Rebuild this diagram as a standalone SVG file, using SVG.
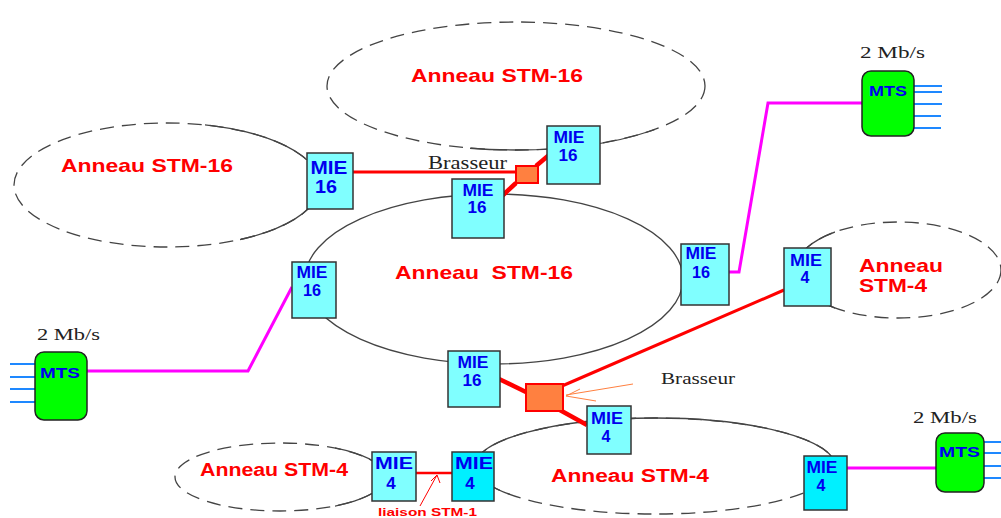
<svg xmlns="http://www.w3.org/2000/svg" width="1001" height="518" viewBox="0 0 1001 518">
<style>
.ring{fill:none;stroke:#444;stroke-width:1.3}
.dash{fill:none;stroke:#444;stroke-width:1.3;stroke-dasharray:14 8}
.lbl{font-family:"Liberation Sans",Arial,sans-serif;font-weight:bold;fill:#ff0000}
.mie{stroke:#333;stroke-width:1.5}
.light{fill:#80ffff}
.dark{fill:#00f0ff}
.mt{font-family:"Liberation Sans",Arial,sans-serif;font-weight:bold;fill:#0000ee;text-anchor:middle}
.mts{fill:#00ff00;stroke:#222;stroke-width:1.5}
.mtst{font-family:"Liberation Sans",Arial,sans-serif;font-weight:bold;fill:#0000ee;font-size:14px}
.serif{font-family:"Liberation Serif","Times New Roman",serif;fill:#222}
.trib{stroke:#1e88ff;stroke-width:2;fill:none}
.mag{stroke:#ff00ff;stroke-width:3;fill:none;stroke-linejoin:miter}
.red{stroke:#ff0000;fill:none}
.brass{fill:#ff8040;stroke:#ff0000;stroke-width:2}
</style>
<defs>
<clipPath id="cL"><rect x="205" y="100" width="200" height="60"/><rect x="240" y="200" width="200" height="60"/></clipPath>
<clipPath id="cT"><rect x="470" y="120" width="185" height="40"/></clipPath>
<clipPath id="cR"><rect x="790" y="225" width="45" height="100"/></clipPath>
<clipPath id="cBL"><rect x="335" y="430" width="60" height="90"/></clipPath>
<clipPath id="cBR"><rect x="470" y="410" width="380" height="50"/><rect x="470" y="455" width="40" height="40"/></clipPath>
</defs>
<rect width="1001" height="518" fill="#ffffff"/>

<g id="rings">
  <ellipse class="dash" cx="167" cy="185" rx="153" ry="62"/>
  <ellipse class="ring" cx="167" cy="185" rx="153" ry="62" clip-path="url(#cL)"/>
  <ellipse class="dash" cx="516" cy="86" rx="189" ry="64"/>
  <ellipse class="ring" cx="516" cy="86" rx="189" ry="64" clip-path="url(#cT)"/>
  <ellipse class="ring" cx="494" cy="279" rx="189" ry="85"/>
  <ellipse class="dash" cx="898" cy="270" rx="103" ry="48"/>
  <ellipse class="ring" cx="898" cy="270" rx="103" ry="48" clip-path="url(#cR)"/>
  <ellipse class="dash" cx="280" cy="477" rx="105" ry="34"/>
  <ellipse class="ring" cx="280" cy="477" rx="105" ry="34" clip-path="url(#cBL)"/>
  <ellipse class="dash" cx="655" cy="466" rx="180" ry="48"/>
  <ellipse class="ring" cx="655" cy="466" rx="180" ry="48" clip-path="url(#cBR)"/>
</g>

<g id="ring-labels">
  <text class="lbl" x="411" y="82" font-size="19" textLength="172" lengthAdjust="spacingAndGlyphs">Anneau STM-16</text>
  <text class="lbl" x="61" y="172" font-size="19" textLength="172" lengthAdjust="spacingAndGlyphs">Anneau STM-16</text>
  <text class="lbl" x="395" y="279" font-size="19" textLength="178" lengthAdjust="spacingAndGlyphs" xml:space="preserve">Anneau  STM-16</text>
  <text class="lbl" x="859" y="272" font-size="19" textLength="84" lengthAdjust="spacingAndGlyphs">Anneau</text>
  <text class="lbl" x="859" y="292" font-size="19" textLength="68" lengthAdjust="spacingAndGlyphs">STM-4</text>
  <text class="lbl" x="200" y="476" font-size="18" textLength="148" lengthAdjust="spacingAndGlyphs">Anneau STM-4</text>
  <text class="lbl" x="551" y="482" font-size="18" textLength="158" lengthAdjust="spacingAndGlyphs">Anneau STM-4</text>
</g>

<g id="connectors">
  <line class="red" x1="353" y1="172" x2="517" y2="172" stroke-width="3"/>
  <line class="red" x1="536" y1="166" x2="549" y2="155" stroke-width="4.5"/>
  <line class="red" x1="516" y1="183" x2="502" y2="196" stroke-width="4.5"/>
  <line class="red" x1="497" y1="378" x2="528" y2="393" stroke-width="4.5"/>
  <line class="red" x1="558" y1="409" x2="587" y2="425" stroke-width="4.5"/>
  <line class="red" x1="562" y1="386" x2="784" y2="290" stroke-width="3"/>
  <line x1="633" y1="384" x2="566" y2="395" stroke="#ff8040" stroke-width="1"/>
  <line x1="566" y1="396" x2="596" y2="401" stroke="#ff8040" stroke-width="1"/>
  <line x1="566" y1="396" x2="580" y2="389" stroke="#ff8040" stroke-width="1"/>
  <line class="red" x1="416" y1="473" x2="452" y2="473" stroke-width="2.5"/>
  <line class="red" x1="420" y1="506" x2="437" y2="475" stroke-width="1"/>
  <polyline class="red" points="431,481 437,475 440,483" stroke-width="1"/>
  <polyline class="mag" points="87,371 248,371 292,287"/>
  <polyline class="mag" points="729,272 739,272 768,103 862,103"/>
  <line class="mag" x1="847" y1="468" x2="936" y2="468"/>
</g>

<g id="brasseur-top">
  <rect class="brass" x="516" y="166" width="22" height="17"/>
  <text class="serif" x="428" y="169" font-size="18" textLength="79" lengthAdjust="spacingAndGlyphs">Brasseur</text>
</g>
<g id="brasseur-bottom">
  <rect class="brass" x="526" y="384" width="37" height="27"/>
  <text class="serif" x="661" y="384" font-size="17" textLength="74" lengthAdjust="spacingAndGlyphs">Brasseur</text>
</g>
<g id="liaison-label">
  <text class="lbl" x="378" y="516" font-size="11" textLength="99" lengthAdjust="spacingAndGlyphs">liaison STM-1</text>
</g>

<g id="mie16-left">
  <rect class="mie light" x="307" y="153" width="46" height="56"/>
  <text class="mt" x="329" y="174" font-size="18" textLength="37" lengthAdjust="spacingAndGlyphs">MIE</text>
  <text class="mt" x="326" y="193" font-size="18" textLength="22" lengthAdjust="spacingAndGlyphs">16</text>
</g>
<g id="mie16-top">
  <rect class="mie light" x="547" y="126" width="53" height="58"/>
  <text class="mt" x="569" y="143" font-size="16" textLength="31" lengthAdjust="spacingAndGlyphs">MIE</text>
  <text class="mt" x="568" y="161" font-size="16" textLength="19" lengthAdjust="spacingAndGlyphs">16</text>
</g>
<g id="mie16-mid">
  <rect class="mie light" x="452" y="179" width="52" height="59"/>
  <text class="mt" x="478" y="196" font-size="16" textLength="31" lengthAdjust="spacingAndGlyphs">MIE</text>
  <text class="mt" x="477" y="213" font-size="16" textLength="19" lengthAdjust="spacingAndGlyphs">16</text>
</g>
<g id="mie16-west">
  <rect class="mie light" x="292" y="262" width="44" height="56"/>
  <text class="mt" x="312" y="278" font-size="16" textLength="31" lengthAdjust="spacingAndGlyphs">MIE</text>
  <text class="mt" x="312" y="296" font-size="16" textLength="18" lengthAdjust="spacingAndGlyphs">16</text>
</g>
<g id="mie16-east">
  <rect class="mie light" x="681" y="244" width="48" height="61"/>
  <text class="mt" x="701" y="259" font-size="16" textLength="31" lengthAdjust="spacingAndGlyphs">MIE</text>
  <text class="mt" x="701" y="278" font-size="16" textLength="18" lengthAdjust="spacingAndGlyphs">16</text>
</g>
<g id="mie4-east">
  <rect class="mie light" x="784" y="248" width="47" height="58"/>
  <text class="mt" x="806" y="266" font-size="16" textLength="32" lengthAdjust="spacingAndGlyphs">MIE</text>
  <text class="mt" x="805" y="283" font-size="16">4</text>
</g>
<g id="mie16-south">
  <rect class="mie light" x="448" y="351" width="52" height="56"/>
  <text class="mt" x="473" y="368" font-size="16" textLength="31" lengthAdjust="spacingAndGlyphs">MIE</text>
  <text class="mt" x="472" y="386" font-size="16" textLength="19" lengthAdjust="spacingAndGlyphs">16</text>
</g>
<g id="mie4-south">
  <rect class="mie light" x="587" y="406" width="44" height="48"/>
  <text class="mt" x="607" y="424" font-size="16" textLength="32" lengthAdjust="spacingAndGlyphs">MIE</text>
  <text class="mt" x="606" y="442" font-size="16">4</text>
</g>
<g id="mie4-bl">
  <rect class="mie light" x="372" y="452" width="44" height="49"/>
  <text class="mt" x="394" y="469" font-size="17" textLength="38" lengthAdjust="spacingAndGlyphs">MIE</text>
  <text class="mt" x="391" y="489" font-size="17">4</text>
</g>
<g id="mie4-bm">
  <rect class="mie dark" x="452" y="452" width="42" height="49"/>
  <text class="mt" x="474" y="469" font-size="17" textLength="38" lengthAdjust="spacingAndGlyphs">MIE</text>
  <text class="mt" x="470" y="489" font-size="17">4</text>
</g>
<g id="mie4-br">
  <rect class="mie dark" x="804" y="456" width="43" height="54"/>
  <text class="mt" x="822" y="473" font-size="16" textLength="31" lengthAdjust="spacingAndGlyphs">MIE</text>
  <text class="mt" x="821" y="491" font-size="16">4</text>
</g>

<g id="mts-left">
  <path class="trib" d="M10 364H36M10 377H36M10 389H36M10 402H36"/>
  <rect class="mts" x="35" y="352" width="52" height="68" rx="9"/>
  <text class="mtst" x="40" y="378" textLength="40" lengthAdjust="spacingAndGlyphs">MTS</text>
  <text class="serif" x="37" y="340" font-size="17" textLength="63" lengthAdjust="spacingAndGlyphs">2 Mb/s</text>
</g>
<g id="mts-top">
  <path class="trib" d="M913 86H942M913 92H942M913 104H942M913 116H941M913 128H941"/>
  <rect class="mts" x="862" y="71" width="52" height="65" rx="9"/>
  <text class="mtst" x="869" y="96" textLength="38" lengthAdjust="spacingAndGlyphs">MTS</text>
  <text class="serif" x="860" y="58" font-size="17" textLength="65" lengthAdjust="spacingAndGlyphs">2 Mb/s</text>
</g>
<g id="mts-bottom">
  <path class="trib" d="M982 442H1001M982 453H1001M982 466H1001M982 478H1001"/>
  <rect class="mts" x="936" y="433" width="48" height="59" rx="9"/>
  <text class="mtst" x="939" y="457" textLength="41" lengthAdjust="spacingAndGlyphs">MTS</text>
  <text class="serif" x="913" y="423" font-size="17" textLength="64" lengthAdjust="spacingAndGlyphs">2 Mb/s</text>
</g>
</svg>
